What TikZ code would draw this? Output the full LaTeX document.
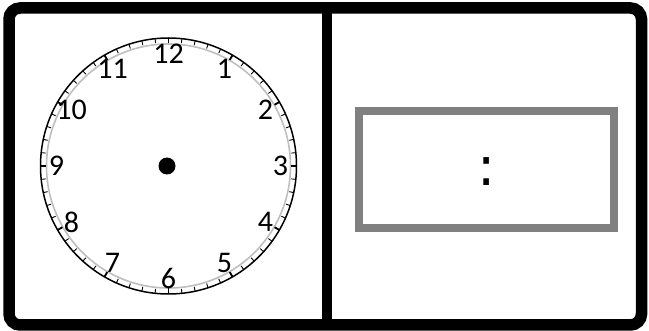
\documentclass[tikz,border=0pt]{standalone}
\usepackage{fontspec}
\setmainfont{Carlito}
\newfontfamily\colonfont{DejaVu Sans}
\usetikzlibrary{calc}

\begin{document}
\begin{tikzpicture}[x=1pt, y=-1pt, font=\fontsize{30}{33}\selectfont]
\useasboundingbox (0,0) rectangle (649,331);
% frame and divider
\draw[line width=11.5pt, rounded corners=11pt] (9,8) rectangle (641.5,325);
\coordinate (top) at (327,8);
\coordinate (bot) at (327,325);
\draw[line width=10.5pt] (top) -- (bot);
% clock face
\coordinate (c) at (168.5,166);
\draw[black!25, line width=1.6pt] (c) circle (122);
\draw[line width=1.5pt] (c) circle (128);
\foreach \m in {0,...,59}
  \draw[line width=0.9pt] (c) ++(\m*6:128) -- ++(\m*6:-4.5);
\foreach \h in {1,...,12}
  \draw[line width=1.8pt] (c) ++(\h*30:128) -- ++(\h*30:-5.5);
% hour numbers
\foreach \h in {1,...,12}
  \node[inner sep=0pt] (n\h) at ($(c)+(\h*30-90:112)$) {\h};
\fill (167,166) circle (8.5);
% digital display
\draw[black!50, line width=8pt] (359,111) rectangle (613.5,228.5);
\node[inner sep=0pt, font=\colonfont\fontsize{54}{58}\selectfont] (colon) at (487,172) {:};
\end{tikzpicture}
\end{document}
